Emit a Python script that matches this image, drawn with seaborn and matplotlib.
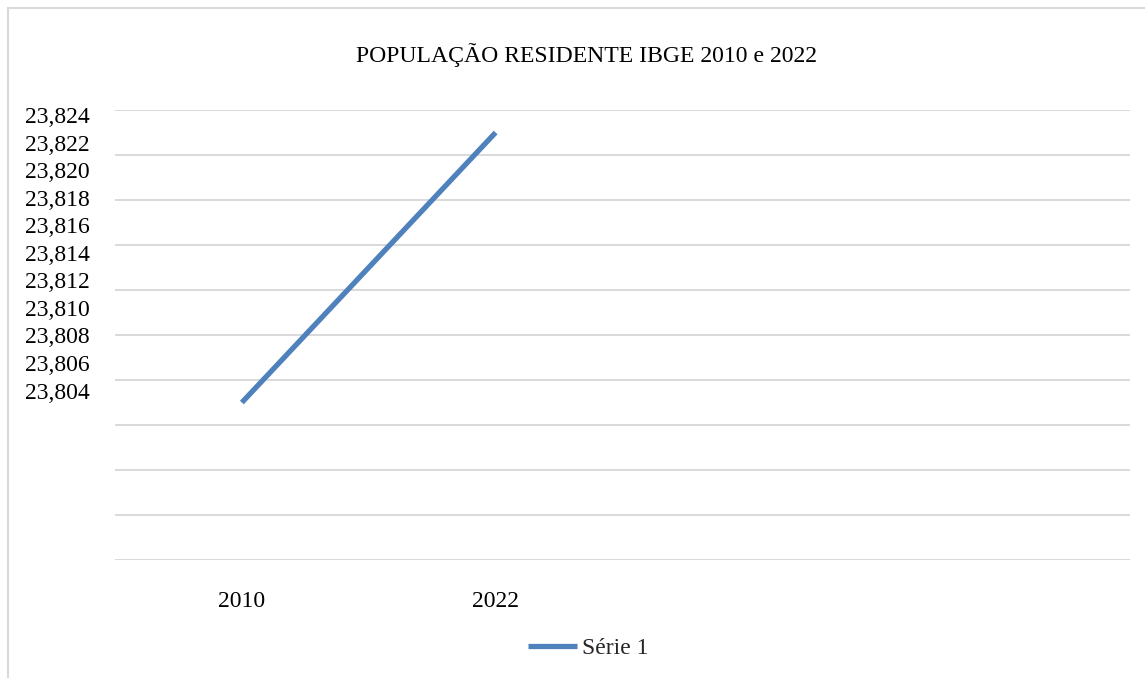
import numpy as np
import pandas as pd
import matplotlib
matplotlib.use("Agg")
import matplotlib.pyplot as plt
import seaborn as sns
from matplotlib.patches import Rectangle
from matplotlib.lines import Line2D

# ---- data ----
years = ["2010", "2022"]
values = [23811, 23823]
series_name = "Série 1"
title = "POPULAÇÃO RESIDENTE IBGE 2010 e 2022"
ytick_labels = ["23,824", "23,822", "23,820", "23,818", "23,816", "23,814",
                "23,812", "23,810", "23,808", "23,806", "23,804"]
grid_values = list(range(23804, 23825, 2))

sns.set_theme(style="white")
plt.rcParams["font.family"] = ["Liberation Serif", "DejaVu Serif"]

W, H = 1145, 678
fig = plt.figure(figsize=(W / 100, H / 100), dpi=100)
fig.patch.set_facecolor("white")

# chart border (Excel-style frame)
fig.patches.append(Rectangle((8 / W, -0.05), 1.2, 1 - 8 / H + 0.05,
                             transform=fig.transFigure, fill=False,
                             edgecolor="#d9d9d9", linewidth=1.5))

ax = fig.add_axes([115 / W, 1 - 560 / H, (1130 - 115) / W, (560 - 110) / H])

df = pd.DataFrame({"ano": years, "pop": values, "serie": series_name})
sns.lineplot(data=df, x="ano", y="pop", ax=ax, color="#4f81bd",
             linewidth=3.8, legend=False, solid_capstyle="butt")

ax.set_xlim(-0.5, 3.5)
ax.set_ylim(23804, 23824)
for s in ax.spines.values():
    s.set_visible(False)

# gridlines at major ticks (no labels)
ax.set_yticks(grid_values)
ax.set_yticklabels([])
ax.grid(axis="y", color="#d9d9d9", linewidth=1.4)
ax.grid(axis="x", visible=False)

# tick labels drawn (as in reference) at their own spacing
label_pos = np.linspace(23823.78, 23823.78 - 1.225 * 10, len(ytick_labels))
ax.set_yticks(label_pos, minor=True)
ax.set_yticklabels(ytick_labels, minor=True, fontsize=17, color="black")
ax.tick_params(axis="y", which="both", length=0, pad=18)

ax.set_xticks(range(len(years)))
ax.set_xticklabels(years, fontsize=17, color="black")
ax.tick_params(axis="x", length=0, pad=22)
ax.set_xlabel("")
ax.set_ylabel("")

fig.text(586 / W, 1 - 55 / H, title, ha="center", va="center",
         fontsize=17.1, color="black")

h = Line2D([], [], color="#4f81bd", linewidth=3.8, solid_capstyle="butt")
fig.legend([h], [series_name], loc="center", bbox_to_anchor=(588 / W, 1 - 648 / H),
           frameon=False, fontsize=17, handlelength=2.1, handletextpad=0.2)

fig.savefig("out.png", dpi=100, facecolor="white")
